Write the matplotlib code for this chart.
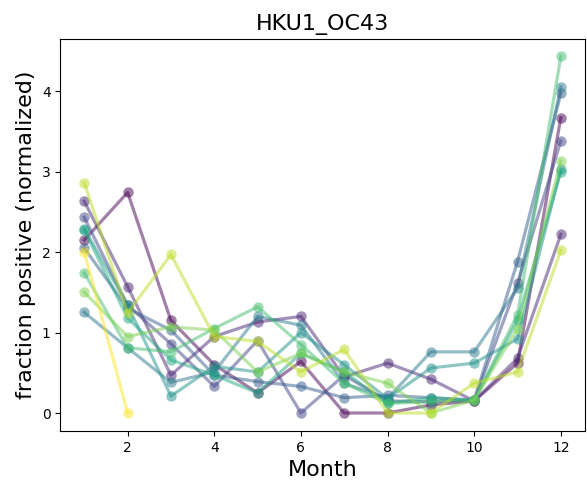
import numpy as np
import matplotlib
matplotlib.use("Agg")
import matplotlib.pyplot as plt

months = [1, 2, 3, 4, 5, 6, 7, 8, 9, 10, 11, 12]

s0 = [2.15, 2.74, 1.15, 0.60, 0.25, 0.64, 0.00, 0.00, 0.10, 0.15, 0.62, 3.67]
s1 = [2.63, 1.57, 0.47, 0.95, 1.13, 1.20, 0.45, 0.62, 0.42, 0.15, 0.68, 2.22]
s2 = [2.43, 1.34, 0.86, 0.33, 0.90, 0.00, 0.47, 0.15, 0.14, 0.16, 1.61, 3.38]
s3 = [2.05, 1.30, 1.03, 0.47, 0.39, 0.33, 0.19, 0.22, 0.19, 0.16, 1.88, 3.97]
s4 = [1.25, 0.81, 0.38, 0.51, 1.20, 1.09, 0.37, 0.18, 0.76, 0.76, 1.55, 4.05]
s5 = [2.29, 1.34, 0.21, 0.58, 0.51, 1.00, 0.60, 0.18, 0.56, 0.62, 0.92, 3.03]
s6 = [2.27, 1.18, 0.66, 0.47, 0.25, 0.74, 0.51, 0.12, 0.19, 0.16, 1.15, 3.00]
s7 = [1.74, 0.81, 0.76, 1.05, 1.32, 0.85, 0.37, 0.12, 0.14, 0.16, 1.22, 4.43]
s8 = [1.50, 0.95, 1.07, 1.03, 0.51, 0.74, 0.51, 0.37, 0.00, 0.16, 1.05, 3.13]
s9 = [2.86, 1.24, 1.97, 0.95, 0.89, 0.51, 0.79, 0.00, 0.00, 0.37, 0.51, 2.02]
s10 = [2.00, 0.00]

series = [s0, s1, s2, s3, s4, s5, s6, s7, s8, s9, s10]

fig = plt.figure(figsize=(5.87, 4.83), dpi=100)
ax = fig.add_axes([0.103, 0.108, 0.893, 0.812])
cmap = plt.get_cmap("viridis")
n = len(series)
for i, s in enumerate(series):
    c = cmap(i / (n - 1))
    ax.plot(months[:len(s)], s, "-o", color=c, alpha=0.5, lw=2.3, ms=7.5, mew=0)

ax.set_title("HKU1_OC43", fontsize=16)
ax.set_xlabel("Month", fontsize=16)
ax.set_ylabel("fraction positive (normalized)", fontsize=16)
ax.set_xticks([2, 4, 6, 8, 10, 12])
ax.set_yticks([0, 1, 2, 3, 4])
fig.savefig("out.png", dpi=100)
